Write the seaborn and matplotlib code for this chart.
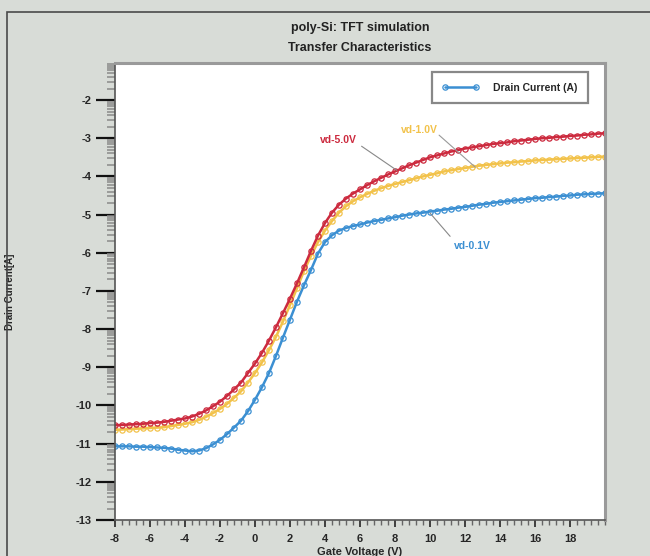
import numpy as np
import pandas as pd
import matplotlib
matplotlib.use("Agg")
import matplotlib.pyplot as plt
from matplotlib.ticker import MultipleLocator, FixedLocator
from matplotlib.patches import Rectangle
from matplotlib.lines import Line2D
import seaborn as sns

# gate voltage grid (V)
vg = np.round(np.arange(-8.0, 20.01, 0.4), 1)

# log10 of drain current for each drain bias
vd_5v = [-10.52, -10.51, -10.50, -10.49, -10.48, -10.46, -10.45, -10.43, -10.40, -10.37,
         -10.34, -10.29, -10.22, -10.13, -10.02, -9.90, -9.75, -9.58, -9.40, -9.15,
         -8.90, -8.62, -8.30, -7.95, -7.58, -7.20, -6.80, -6.38, -5.95, -5.55,
         -5.22, -4.95, -4.74, -4.58, -4.45, -4.34, -4.23, -4.13, -4.04, -3.95,
         -3.87, -3.79, -3.71, -3.64, -3.57, -3.50, -3.45, -3.40, -3.35, -3.31,
         -3.27, -3.24, -3.21, -3.18, -3.15, -3.13, -3.11, -3.08, -3.06, -3.04,
         -3.02, -3.00, -2.99, -2.97, -2.96, -2.94, -2.93, -2.91, -2.90, -2.88,
         -2.87]
vd_1v = [-10.64, -10.63, -10.62, -10.61, -10.60, -10.59, -10.58, -10.57, -10.54, -10.51,
         -10.48, -10.44, -10.38, -10.30, -10.20, -10.09, -9.96, -9.80, -9.63, -9.40,
         -9.15, -8.87, -8.55, -8.20, -7.80, -7.37, -6.93, -6.48, -6.08, -5.72,
         -5.42, -5.17, -4.95, -4.78, -4.65, -4.55, -4.46, -4.38, -4.31, -4.25,
         -4.20, -4.15, -4.10, -4.05, -4.00, -3.96, -3.92, -3.87, -3.84, -3.81,
         -3.78, -3.75, -3.72, -3.70, -3.68, -3.66, -3.64, -3.63, -3.61, -3.60,
         -3.58, -3.57, -3.56, -3.55, -3.54, -3.53, -3.52, -3.51, -3.50, -3.49,
         -3.48]
vd_01v = [-11.07, -11.07, -11.07, -11.08, -11.08, -11.09, -11.10, -11.11, -11.13, -11.16,
          -11.18, -11.20, -11.18, -11.12, -11.02, -10.90, -10.75, -10.58, -10.40, -10.15,
          -9.85, -9.52, -9.15, -8.70, -8.22, -7.75, -7.28, -6.85, -6.45, -6.02,
          -5.72, -5.54, -5.42, -5.35, -5.30, -5.26, -5.21, -5.17, -5.14, -5.10,
          -5.07, -5.03, -5.00, -4.97, -4.95, -4.92, -4.90, -4.87, -4.85, -4.82,
          -4.80, -4.77, -4.74, -4.72, -4.69, -4.67, -4.65, -4.63, -4.61, -4.59,
          -4.57, -4.56, -4.54, -4.53, -4.51, -4.50, -4.48, -4.47, -4.46, -4.45,
          -4.44]

y_major = list(range(-13, -1))
x_major = list(range(-8, 20, 2))

sns.set_style("ticks")
plt.rcParams['font.family'] = ['Liberation Sans Narrow', 'Liberation Sans', 'DejaVu Sans']
plt.rcParams['font.weight'] = 'bold'
plt.rcParams['axes.unicode_minus'] = False

bg = '#d8dcd7'
red, yellow, blue = '#cc2a3e', '#f2c24a', '#3b8fd2'

fig = plt.figure(figsize=(6.5, 5.56), dpi=100, facecolor=bg)
fig.patches.append(Rectangle((7 / 650, -0.05), 1.1, 1 - 12 / 556 + 0.05,
                             transform=fig.transFigure, fill=False,
                             edgecolor='#4a4a4a', linewidth=1.2))
ax = fig.add_axes([115 / 650, 1 - 520 / 556, 490 / 650, 457 / 556])
ax.set_facecolor('white')

df = pd.DataFrame({'vg': vg, 'vd01': vd_01v, 'vd1': vd_1v, 'vd5': vd_5v})
mk = dict(marker='o', markersize=3.8, markerfacecolor='none', markeredgewidth=0.9,
          linewidth=1.8, linestyle='-')
for col, c in [('vd01', blue), ('vd1', yellow), ('vd5', red)]:
    sns.lineplot(data=df, x='vg', y=col, color=c, markeredgecolor=c, ax=ax,
                 legend=False, **mk)

ax.set_xlim(-8, 20)
ax.set_ylim(-13, -1.03)
ax.set_xticks(x_major)
ax.set_yticks(y_major)
ax.xaxis.set_minor_locator(MultipleLocator(0.4))
minor_y = [n + np.log10(k) for n in range(-14, 0) for k in range(2, 10)]
minor_y = [v for v in minor_y if -13 < v < -1.03]
ax.yaxis.set_minor_locator(FixedLocator(minor_y))

ax.tick_params(axis='y', which='major', direction='out', length=14, width=1.6,
               color='#111111', labelsize=8, pad=3)
ax.tick_params(axis='y', which='minor', direction='out', length=6, width=1.1,
               color='#8a8a8a')
ax.tick_params(axis='x', which='major', direction='out', length=5, width=1.3,
               color='#333333', labelsize=8, pad=5)
ax.tick_params(axis='x', which='minor', direction='out', length=3.5, width=1.0,
               color='#666666')
for lab in ax.get_xticklabels() + ax.get_yticklabels():
    lab.set_fontweight('bold')

for side in ['top', 'right']:
    ax.spines[side].set_color('#9a9a9a')
    ax.spines[side].set_linewidth(2.2)
for side in ['left', 'bottom']:
    ax.spines[side].set_color('#555555')
    ax.spines[side].set_linewidth(1.2)

ax.set_xlabel('Gate Voltage (V)', fontsize=8, fontweight='bold')
ax.set_ylabel('Drain Current[A]', fontsize=7, fontweight='bold')
ax.xaxis.set_label_coords(0.5, -0.06)
ax.yaxis.set_label_coords(-0.204, 0.5)

fig.text(360 / 650, 1 - 28 / 556, 'poly-Si: TFT simulation', ha='center', va='center',
         fontsize=9, fontweight='bold', color='#222222')
fig.text(360 / 650, 1 - 48 / 556, 'Transfer Characteristics', ha='center', va='center',
         fontsize=9, fontweight='bold', color='#222222')

handle = Line2D([], [], color=blue, markeredgecolor=blue, **mk)
leg = ax.legend([handle], ['Drain Current (A)'], loc='upper right',
                bbox_to_anchor=(0.965, 0.98), numpoints=2,
                handlelength=3.6, handletextpad=1.3, borderpad=1.0,
                fancybox=False, framealpha=1, borderaxespad=0,
                prop={'weight': 'bold', 'size': 7.5})
leg.get_frame().set_edgecolor('#888888')
leg.get_frame().set_linewidth(1.6)

# curve labels with leader lines
ann = dict(fontsize=7.5, fontweight='bold', ha='center', va='center')
ax.text(4.77, -3.05, 'vd-5.0V', color=red, **ann)
ax.plot([6.09, 8.10], [-3.21, -3.84], color='#888888', linewidth=0.8)
ax.text(9.37, -2.79, 'vd-1.0V', color=yellow, **ann)
ax.plot([10.52, 12.59], [-2.92, -3.76], color='#999999', linewidth=0.8)
ax.text(12.41, -5.83, 'vd-0.1V', color=blue, **ann)
ax.plot([11.15, 10.0], [-5.57, -4.96], color='#888888', linewidth=0.8)

fig.savefig('out.png', dpi=100, facecolor=bg)
